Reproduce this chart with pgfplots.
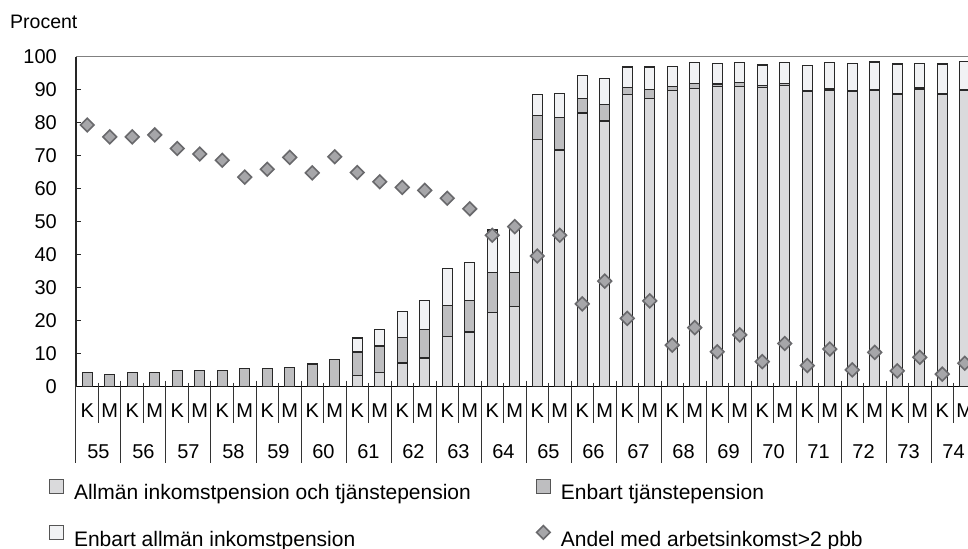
\documentclass[border=0pt]{standalone}
\usepackage{fontspec}
\setmainfont{Liberation Sans}
\usepackage{pgfplots}
\pgfplotsset{compat=1.18}
\usepackage{pgfplotstable}

\definecolor{cA}{RGB}{218,218,220}
\definecolor{cT}{RGB}{190,190,192}
\definecolor{cE}{RGB}{241,242,244}
\definecolor{cBar}{RGB}{40,40,40}
\definecolor{cD}{RGB}{166,166,169}
\definecolor{cDd}{RGB}{105,105,108}
\definecolor{cLeg}{RGB}{85,85,85}

\newcommand{\fs}{\fontsize{20bp}{24bp}\selectfont}

\pgfplotsset{diamondleg/.style={legend image code/.code={\path[only marks, mark=square*, mark size=4.8bp, mark options={rotate=45, fill=cD, draw=cDd, line width=1.6bp}] plot coordinates {(7bp,7bp)};}}}

\pgfplotstableread{
i A T E D
0 0 4.2 0 79.3
1 0 3.8 0 75.7
2 0 4.4 0 75.7
3 0 4.2 0 76.3
4 0 5.0 0 72.2
5 0 5.0 0 70.5
6 0 5.0 0 68.6
7 0 5.6 0 63.5
8 0 5.6 0 65.9
9 0 5.9 0 69.5
10 0 6.9 0 64.8
11 0 8.3 0 69.7
12 3.4 7.1 4.3 64.9
13 4.2 8.1 5.1 62.1
14 7.2 7.8 7.7 60.4
15 8.7 8.7 8.7 59.5
16 15.2 9.5 11.2 57.1
17 16.6 9.5 11.5 53.9
18 22.4 12.1 13.0 45.9
19 24.2 10.3 14.3 48.5
20 75.0 7.1 6.5 39.6
21 71.7 9.8 7.3 45.9
22 82.9 4.4 6.9 25.1
23 80.5 5.1 7.7 32.0
24 88.6 2.1 6.2 20.7
25 87.4 2.7 6.8 26.0
26 89.8 1.2 6.1 12.6
27 90.4 1.5 6.4 17.9
28 90.9 0.8 6.2 10.6
29 90.9 1.3 6.0 15.7
30 90.7 0.5 6.3 7.6
31 91.3 0.6 6.4 13.1
32 89.4 0.3 7.7 6.4
33 89.8 0.4 8.0 11.4
34 89.5 0.2 8.2 5.1
35 89.7 0.3 8.4 10.4
36 88.5 0.3 9.0 4.8
37 90.1 0.4 7.5 8.9
38 88.5 0.3 9.0 3.8
39 89.7 0.3 8.5 7.1
}\data

\begin{document}
\begin{tikzpicture}
\useasboundingbox (-76bp,-162.3bp) rectangle (892bp,386.7bp);
\begin{axis}[
  at={(0,0)}, anchor=south west, scale only axis,
  width=900bp, height=330bp,
  xmin=-0.5, xmax=39.5, ymin=0, ymax=100,
  clip=false,
  ybar stacked, bar width=10bp,
  axis x line*=bottom, axis y line*=left,
  x axis line style={black, line width=1.4bp},
  y axis line style={black!85, line width=1.2bp},
  xtick={0,...,39},
  xticklabels={K,M,K,M,K,M,K,M,K,M,K,M,K,M,K,M,K,M,K,M,K,M,K,M,K,M,K,M,K,M,K,M,K,M,K,M,K,M,K,M},
  xtick style={draw=none},
  ytick={0,10,...,100},
  tick align=inside, major tick length=5bp,
  ytick style={black!85, line width=1bp},
  yticklabel style={inner sep=0pt, xshift=-19bp, font=\fs},
  xticklabel style={inner sep=0pt, anchor=center, yshift=-24bp, font=\fs},
  /pgf/number format/assume math mode=true,
  every axis plot/.append style={draw=cBar, line width=1.3bp},
]
\addplot[fill=cA] table[x=i,y=A]{\data};
\addplot[fill=cT] table[x=i,y=T]{\data};
\addplot[fill=cE] table[x=i,y=E]{\data};

\draw[color=black!50, line width=1.4bp] (rel axis cs:0,1) -- (rel axis cs:1,1);

\pgfplotsinvokeforeach{0.5,2.5,4.5,6.5,8.5,10.5,12.5,14.5,16.5,18.5,20.5,22.5,24.5,26.5,28.5,30.5,32.5,34.5,36.5,38.5}{
  \draw[black!80, line width=1bp] ([yshift=4bp]axis cs:#1,0) -- ([yshift=-36.5bp]axis cs:#1,0);
  \node[font=\fs, inner sep=0pt, anchor=center] at ([yshift=-65.3bp]axis cs:#1,0) {\pgfmathparse{int(55+(#1-0.5)/2)}\pgfmathresult};
}
\pgfplotsinvokeforeach{-0.5,1.5,3.5,5.5,7.5,9.5,11.5,13.5,15.5,17.5,19.5,21.5,23.5,25.5,27.5,29.5,31.5,33.5,35.5,37.5,39.5}{
  \draw[black!80, line width=1bp] ([yshift=6bp]axis cs:#1,0) -- ([yshift=-76.3bp]axis cs:#1,0);
}
\node[anchor=west, inner sep=0pt, font=\fontsize{19.5bp}{23bp}\selectfont] at ([xshift=-66bp, yshift=34.7bp]rel axis cs:0,1) {Procent};
\end{axis}

\begin{axis}[
  at={(0,0)}, anchor=south west, scale only axis,
  width=900bp, height=330bp,
  xmin=-0.5, xmax=39.5, ymin=0, ymax=100,
  clip=false, hide axis,
  legend columns=2,
  legend cell align=left,
  legend style={at={(0,0)}, anchor=north west, xshift=-27bp, yshift=-91.8bp,
    draw=none, fill=none, inner sep=0pt, outer sep=0pt,
    font=\fontsize{21bp}{25bp}\selectfont,
    row sep=23.5bp, nodes={inner sep=0pt},
    /tikz/every odd column/.append style={column sep=10bp},
    /tikz/every even column/.append style={column sep=65bp}},
]
\addlegendimage{legend image code/.code={\draw[fill=cA, draw=cLeg, line width=1bp] (0bp,0bp) rectangle (14bp,14bp);}}
\addlegendentry{Allmän inkomstpension och tjänstepension}
\addlegendimage{legend image code/.code={\draw[fill=cT, draw=cLeg, line width=1bp] (0bp,0bp) rectangle (14bp,14bp);}}
\addlegendentry{Enbart tjänstepension}
\addlegendimage{legend image code/.code={\draw[fill=cE, draw=cLeg, line width=1bp] (0bp,0bp) rectangle (14bp,14bp);}}
\addlegendentry{Enbart allmän inkomstpension}
\addplot[only marks, mark=square*, mark size=4.8bp,
  mark options={rotate=45, fill=cD, draw=cDd, line width=1.6bp},
  diamondleg]
  table[x=i,y=D]{\data};
\addlegendentry{Andel med arbetsinkomst>2 pbb}
\end{axis}
\end{tikzpicture}
\end{document}
